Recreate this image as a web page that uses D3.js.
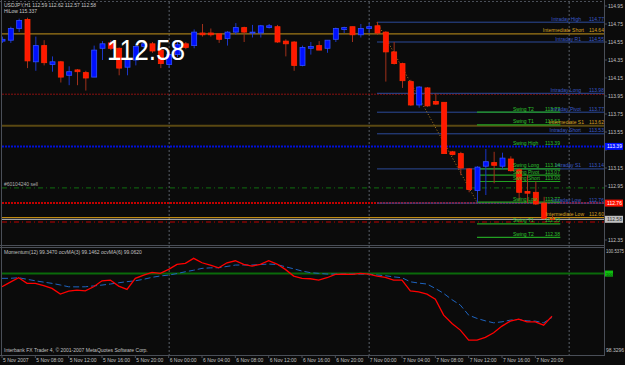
<!DOCTYPE html>
<html>
<head>
<meta charset="utf-8">
<script src="https://cdn.jsdelivr.net/npm/d3@7"></script>
<style>
  body { margin: 0; background: #000; }
  svg { display: block; }
  text { font-family: "Liberation Sans", Arial, sans-serif; }
</style>
</head>
<body>
<svg id="chart" width="625" height="365"></svg>
<script>
// USDJPY H1 candles, one per hour starting 5 Nov 2007 04:00
const opens  = [114.56,114.57,114.70,114.80,114.33,114.51,114.30,114.33,114.18,114.24,114.21,114.16,114.48,114.54,114.48,114.27,114.35,114.50,114.53,114.46,114.30,114.41,114.53,114.51,114.65,114.65,114.64,114.59,114.66,114.71,114.65,114.65,114.71,114.72,114.56,114.55,114.29,114.48,114.51,114.48,114.58,114.69,114.72,114.63,114.70,114.73,114.66,114.44,114.31,114.11,113.85,114.04,113.89,113.88,113.33,113.31,113.14,112.90,113.17,113.21,113.17,113.25,113.13,112.89,112.88,112.76,112.59];
const highs  = [114.61,114.72,114.81,114.82,114.61,114.57,114.39,114.34,114.28,114.25,114.23,114.51,114.56,114.57,114.49,114.41,114.53,114.56,114.55,114.48,114.44,114.55,114.55,114.69,114.75,114.70,114.65,114.67,114.76,114.72,114.74,114.74,114.75,114.74,114.58,114.56,114.51,114.55,114.56,114.57,114.71,114.72,114.72,114.75,114.76,114.77,114.67,114.55,114.32,114.13,114.06,114.05,113.98,113.88,113.34,113.33,113.15,113.17,113.36,113.33,113.32,113.28,113.15,113.07,113.00,112.83,112.62];
const lows   = [114.54,114.54,114.66,114.26,114.23,114.29,114.22,114.10,114.07,114.07,114.01,114.16,114.35,114.46,114.18,114.18,114.29,114.45,114.43,114.26,114.26,114.38,114.47,114.48,114.61,114.61,114.54,114.51,114.63,114.55,114.60,114.60,114.70,114.54,114.39,114.23,114.28,114.41,114.46,114.43,114.55,114.65,114.55,114.60,114.65,114.63,114.11,114.30,114.04,113.84,113.82,113.83,113.85,113.31,113.29,113.07,112.88,112.77,112.85,112.98,113.14,113.11,112.78,112.76,112.74,112.58,112.57];
const closes = [114.58,114.70,114.79,114.34,114.51,114.32,114.33,114.16,114.22,114.22,114.15,114.46,114.53,114.48,114.26,114.36,114.50,114.53,114.45,114.31,114.41,114.52,114.49,114.66,114.63,114.63,114.58,114.66,114.71,114.66,114.66,114.73,114.73,114.55,114.53,114.29,114.49,114.50,114.46,114.57,114.70,114.71,114.63,114.70,114.72,114.65,114.44,114.31,114.12,113.85,114.05,113.84,113.86,113.31,113.30,113.15,112.91,113.16,113.22,113.18,113.26,113.12,112.88,112.87,112.75,112.59,112.58];

// momentum(12) and its moving average, same bars
const momentum = [99.722,99.821,99.912,99.794,99.794,99.747,99.688,99.568,99.632,99.653,99.638,99.722,99.848,99.863,99.737,99.667,99.899,99.968,100.025,100.004,100.088,100.194,100.215,100.320,100.227,100.179,100.122,100.227,100.269,100.194,100.158,100.194,100.269,100.200,100.088,99.947,99.899,99.891,99.863,99.912,99.983,99.989,99.983,100.004,99.989,99.947,99.920,99.863,99.863,99.638,99.617,99.568,99.463,99.126,98.952,98.811,98.600,98.600,98.657,98.754,98.895,99.000,99.042,98.985,98.985,98.916,99.105];
const momentumMA = [99.899,99.900,99.912,99.880,99.848,99.820,99.794,99.760,99.722,99.720,99.722,99.740,99.758,99.780,99.806,99.830,99.848,99.880,99.920,99.950,99.968,100.000,100.038,100.070,100.109,100.120,100.122,100.150,100.179,100.180,100.179,100.190,100.200,100.190,100.143,100.100,100.053,100.020,100.004,99.990,99.989,99.990,99.989,99.990,99.989,99.970,99.954,99.930,99.912,99.827,99.800,99.779,99.688,99.583,99.450,99.337,99.126,99.057,99.006,98.964,98.985,99.021,99.036,99.006,99.000,98.964,99.078];

const timeLabels = ["5 Nov 2007","5 Nov 08:00","5 Nov 12:00","5 Nov 16:00","5 Nov 20:00","6 Nov 00:00","6 Nov 04:00","6 Nov 08:00","6 Nov 12:00","6 Nov 16:00","6 Nov 20:00","7 Nov 00:00","7 Nov 04:00","7 Nov 08:00","7 Nov 12:00","7 Nov 16:00","7 Nov 20:00"];
const daySeparators = [20, 44, 68];
const priceTicks = [114.95,114.75,114.55,114.35,114.15,113.95,113.75,113.55,113.35,113.15,112.95,112.75,112.55,112.35];

// pivot levels drawn by the indicator
const intradayNames  = ["Intraday High","Intraday R1","Intraday Long","Intraday Pivot","Intraday Short","Intraday S1","Intraday Low"];
const intradayPrices = [114.77,114.55,113.98,113.77,113.53,113.14,112.76];
const swingNames  = ["Swing  T2","Swing  T1","Swing High","Swing Long","Swing Pivot","Swing Short","Swing Low","Swing  T1","Swing  T2"];
const swingPrices = [113.77,113.63,113.39,113.14,113.07,113.00,112.77,112.53,112.38];
const interNames  = ["Intermediate Short","Intermediate S1","Intermediate Low"];
const interPrices = [114.64,113.62,112.60];
const dailyLine = 113.97;
const orderPrice = 112.93;
const stopPrice = 112.55;
const zigzag = [{i: 45, p: 114.77}, {i: 57, p: 112.77}];
const lastPrice = 112.58;

const svg = d3.select("#chart");
const W = 625, H = 365;
const plotL = 2, plotR = 604;

svg.append("rect").attr("width", W).attr("height", H).attr("fill", "#0b0b0b");

const x = d3.scaleLinear().domain([0, 72]).range([2, 602]);
const y = d3.scaleLinear().domain([112.35, 114.95]).range([240, 6]);
const ym = d3.scaleLinear().domain([98.3296, 100.5375]).range([353, 248]);

const defs = svg.append("defs");
defs.append("clipPath").attr("id", "mainClip").append("rect")
  .attr("x", plotL).attr("y", 2).attr("width", plotR - plotL).attr("height", 243);
defs.append("clipPath").attr("id", "subClip").append("rect")
  .attr("x", plotL).attr("y", 248).attr("width", plotR - plotL).attr("height", 106);

// frame
const frame = svg.append("g").attr("stroke", "#4a4f58").attr("fill", "none");
frame.append("line").attr("x1", 1.5).attr("x2", 1.5).attr("y1", 0).attr("y2", 356);
frame.append("line").attr("x1", plotR + 0.5).attr("x2", plotR + 0.5).attr("y1", 0).attr("y2", 356);
frame.append("line").attr("x1", 0).attr("x2", plotR).attr("y1", 1.5).attr("y2", 1.5).attr("stroke-dasharray", "2,2");
frame.append("line").attr("x1", 0).attr("x2", plotR).attr("y1", 245.5).attr("y2", 245.5);
frame.append("line").attr("x1", 0).attr("x2", plotR).attr("y1", 247.5).attr("y2", 247.5);
frame.append("line").attr("x1", 0).attr("x2", plotR).attr("y1", 355.5).attr("y2", 355.5);

// day separators
svg.append("g").selectAll("line").data(daySeparators).enter().append("line")
  .attr("x1", d => x(d) + 0.5).attr("x2", d => x(d) + 0.5)
  .attr("y1", 2).attr("y2", 355)
  .attr("stroke", "#5a606a").attr("stroke-dasharray", "2,2");

const main = svg.append("g").attr("clip-path", "url(#mainClip)");

// full width level lines
function hline(p, color, width, dash) {
  main.append("line")
    .attr("x1", plotL).attr("x2", plotR)
    .attr("y1", y(p)).attr("y2", y(p))
    .attr("stroke", color).attr("stroke-width", width)
    .attr("stroke-dasharray", dash || null);
}
hline(interPrices[0], "#a07a18", 1.2);
hline(dailyLine, "#8b1010", 1, "2,1");
hline(interPrices[1], "#5a4812", 2);
hline(swingPrices[2], "#0010d8", 2, "2,1");
hline(orderPrice, "#0f5a0f", 1.2, "5,3,1,3");
hline(intradayPrices[6], "#c40000", 2, "2,1");
hline(interPrices[2], "#c08a10", 1.2);
hline(lastPrice, "#c8c8c8", 1);
hline(stopPrice, "#c00000", 1.2, "5,3,1,3");

// intraday levels (right part only)
main.append("g").selectAll("line").data(intradayPrices).enter().append("line")
  .attr("x1", x(45)).attr("x2", plotR)
  .attr("y1", d => y(d)).attr("y2", d => y(d))
  .attr("stroke", "#2c4a9a").attr("stroke-width", 1);

// swing levels
const swingIdx = [0, 1, 3, 4, 5, 6, 7, 8];
main.append("g").selectAll("line").data(swingIdx).enter().append("line")
  .attr("x1", x(57)).attr("x2", x(67))
  .attr("y1", i => y(swingPrices[i])).attr("y2", i => y(swingPrices[i]))
  .attr("stroke", "#22a022").attr("stroke-width", 1.2);

// zigzag dotted line
main.append("path")
  .datum(zigzag)
  .attr("d", d3.line().x(d => x(d.i)).y(d => y(d.p)))
  .attr("fill", "none").attr("stroke", "#b07a20").attr("stroke-width", 1)
  .attr("stroke-dasharray", "1,2");

// candles
const idx = d3.range(opens.length);
const candles = main.append("g").selectAll("g").data(idx).enter().append("g");
candles.append("line")
  .attr("x1", i => x(i) + 0.5).attr("x2", i => x(i) + 0.5)
  .attr("y1", i => y(highs[i])).attr("y2", i => y(lows[i]))
  .attr("stroke", i => closes[i] >= opens[i] ? "#1a36c8" : "#a0301a")
  .attr("stroke-width", 1);
candles.append("rect")
  .attr("x", i => x(i) - 2)
  .attr("width", 5)
  .attr("y", i => y(Math.max(opens[i], closes[i])))
  .attr("height", i => Math.max(1, Math.abs(y(opens[i]) - y(closes[i]))))
  .attr("fill", i => closes[i] >= opens[i] ? "#0010ff" : "#ff1800")
  .attr("stroke", i => closes[i] >= opens[i] ? "#3050ff" : "#ff2a00")
  .attr("stroke-width", 0.8);

// level labels
const fs = 5;
const lab = svg.append("g").attr("font-size", fs);
intradayNames.forEach((n, i) => {
  lab.append("text").attr("x", 581).attr("y", y(intradayPrices[i]) - 1.5)
    .attr("text-anchor", "end").attr("fill", "#3a5ac8").text(n);
  lab.append("text").attr("x", 589).attr("y", y(intradayPrices[i]) - 1.5)
    .attr("fill", "#3a5ac8").text(intradayPrices[i].toFixed(2));
});
swingNames.forEach((n, i) => {
  lab.append("text").attr("x", 513).attr("y", y(swingPrices[i]) - 1.5)
    .attr("fill", "#2cc02c").text(n);
  lab.append("text").attr("x", 545).attr("y", y(swingPrices[i]) - 1.5)
    .attr("fill", "#2cc02c").text(swingPrices[i].toFixed(2));
});
interNames.forEach((n, i) => {
  lab.append("text").attr("x", 584).attr("y", y(interPrices[i]) - 1.5)
    .attr("text-anchor", "end").attr("fill", "#d8a020").text(n);
  lab.append("text").attr("x", 589).attr("y", y(interPrices[i]) - 1.5)
    .attr("fill", "#d8a020").text(interPrices[i].toFixed(2));
});
lab.append("text").attr("x", 4).attr("y", y(orderPrice) - 1.5)
  .attr("fill", "#b0b0b0").text("#60104240 sell");

// header
svg.append("text").attr("x", 4).attr("y", 7).attr("font-size", fs).attr("fill", "#c8c8c8")
  .text("USDJPY,H1  112.59 112.62 112.57 112.58");
svg.append("text").attr("x", 4).attr("y", 13).attr("font-size", fs).attr("fill", "#c8c8c8")
  .text("HiLow 115.337");
svg.append("text").attr("x", 107).attr("y", 60).attr("font-size", 29)
  .attr("fill", "#ffffff").attr("textLength", 78).attr("lengthAdjust", "spacingAndGlyphs")
  .text(lastPrice.toFixed(2));

// price axis; coloured tags cover the tick labels they sit on
const tags = [
  {p: swingPrices[2], bg: "#0010ff", fg: "#ffffff"},
  {p: intradayPrices[6], bg: "#ff1000", fg: "#ffffff"},
  {p: lastPrice, bg: "#c0c0c0", fg: "#303030"}
];
const ax = svg.append("g").attr("font-size", fs).attr("fill", "#c0c0c0");
priceTicks.forEach(p => {
  ax.append("line").attr("x1", plotR).attr("x2", plotR + 3)
    .attr("y1", y(p)).attr("y2", y(p)).attr("stroke", "#4a4f58");
  const hidden = tags.some(t => Math.abs(y(t.p) - y(p)) < 6);
  if (!hidden) ax.append("text").attr("x", 608).attr("y", y(p) + 2).text(p.toFixed(2));
});
tags.forEach(t => {
  svg.append("rect").attr("x", 605).attr("y", y(t.p) - 3.5).attr("width", 18).attr("height", 7).attr("fill", t.bg);
  svg.append("text").attr("x", 607).attr("y", y(t.p) + 2).attr("font-size", fs).attr("fill", t.fg).text(t.p.toFixed(2));
});

// momentum sub-window
const sub = svg.append("g").attr("clip-path", "url(#subClip)");
sub.append("line").attr("x1", plotL).attr("x2", plotR)
  .attr("y1", ym(100)).attr("y2", ym(100))
  .attr("stroke", "#0a6a0a").attr("stroke-width", 2);
sub.append("path").datum(idx)
  .attr("d", d3.line().x(i => x(i)).y(i => ym(momentumMA[i])))
  .attr("fill", "none").attr("stroke", "#1e64c0").attr("stroke-width", 1)
  .attr("stroke-dasharray", "6,3");
sub.append("path").datum(idx)
  .attr("d", d3.line().x(i => x(i)).y(i => ym(momentum[i])))
  .attr("fill", "none").attr("stroke", "#ff0000").attr("stroke-width", 1.3);

svg.append("text").attr("x", 4).attr("y", 254).attr("font-size", fs).attr("fill", "#c0c0c0")
  .text("Momentum(12) 99.3470  ocvMA(3) 99.1462  ocvMA(6) 99.0620");
svg.append("text").attr("x", 4).attr("y", 352).attr("font-size", fs).attr("fill", "#c0c0c0")
  .text("Interbank FX Trader 4, \u00a9 2001-2007 MetaQuotes Software Corp.");
svg.append("text").attr("x", 606).attr("y", 253).attr("font-size", 4.6).attr("fill", "#c0c0c0")
  .attr("textLength", 18).attr("lengthAdjust", "spacingAndGlyphs").text("100.5375");
svg.append("text").attr("x", 606).attr("y", 352).attr("font-size", fs).attr("fill", "#c0c0c0").text("98.3296");
svg.append("rect").attr("x", 605).attr("y", ym(100) - 3).attr("width", 8).attr("height", 6).attr("fill", "#10c010");
svg.append("text").attr("x", 606).attr("y", ym(100) + 2).attr("font-size", 4).attr("fill", "#003000").text("100");

// time axis
const tx = svg.append("g").attr("font-size", fs).attr("fill", "#c0c0c0");
timeLabels.forEach((t, j) => {
  const xx = x(j * 4);
  tx.append("line").attr("x1", xx).attr("x2", xx).attr("y1", 355).attr("y2", 358).attr("stroke", "#4a4f58");
  tx.append("text").attr("x", xx + 1).attr("y", 362).text(t);
});
</script>
</body>
</html>
